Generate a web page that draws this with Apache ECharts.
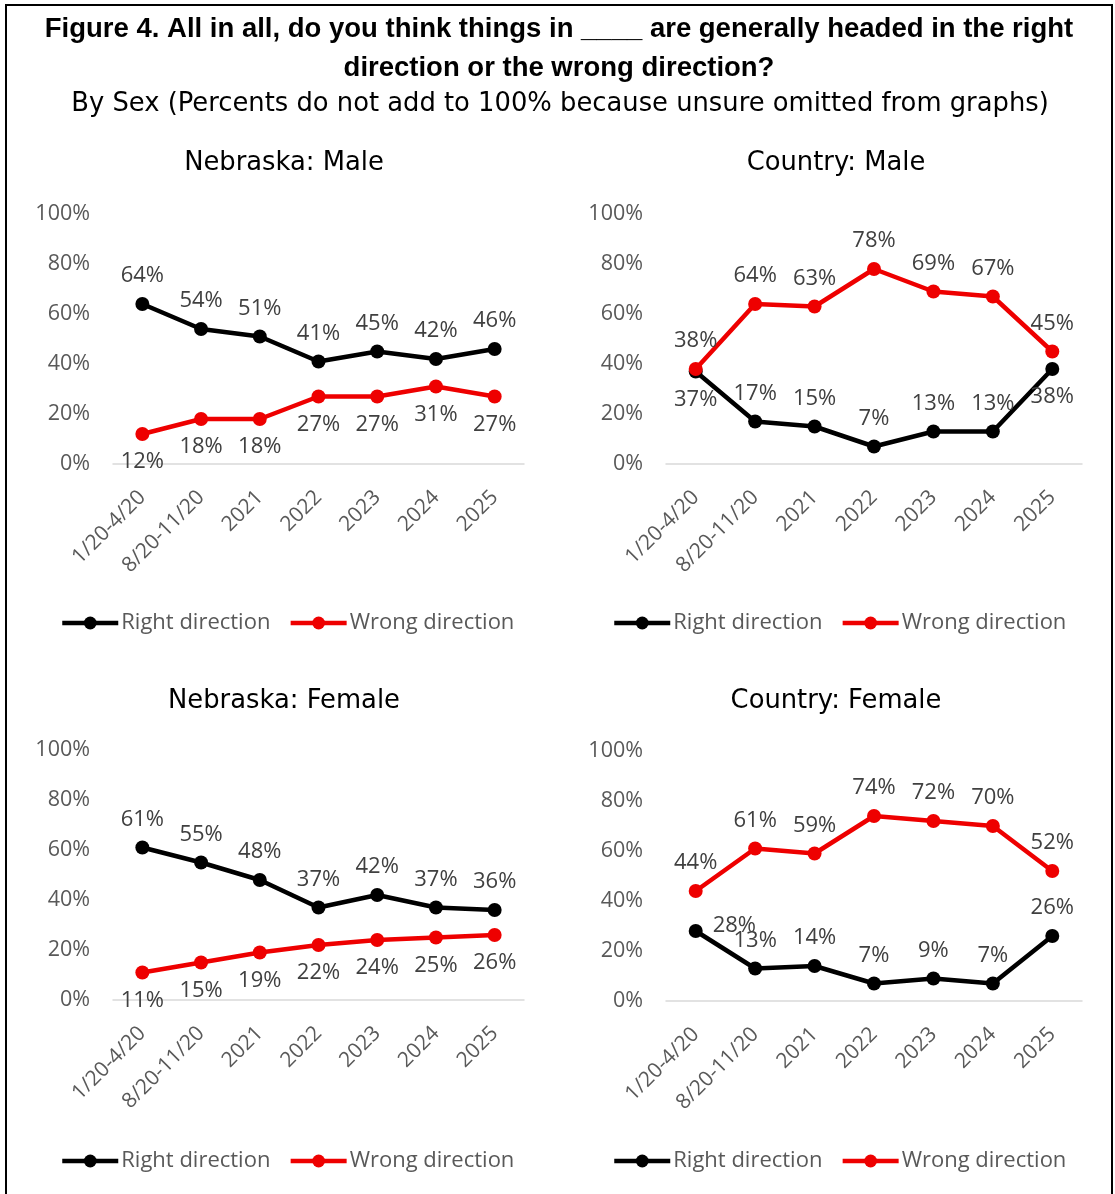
<!DOCTYPE html>
<html>
<head>
<meta charset="utf-8">
<script src="https://cdn.jsdelivr.net/npm/echarts@6/dist/echarts.min.js"></script>
<style>
  html, body { margin: 0; padding: 0; background: #fff; }
  #chart { width: 1115px; height: 1194px; }
</style>
</head>
<body>
<div id="chart"></div>
<script>
// 数据
var categories = ['1/20-4/20', '8/20-11/20', '2021', '2022', '2023', '2024', '2025'];
var seriesNames = ['Right direction', 'Wrong direction'];

var neMaleRight = [64, 54, 51, 41, 45, 42, 46];
var neMaleWrong = [12, 18, 18, 27, 27, 31, 27];
var usMaleRight = [37, 17, 15, 7, 13, 13, 38];
var usMaleWrong = [38, 64, 63, 78, 69, 67, 45];
var neFemaleRight = [61, 55, 48, 37, 42, 37, 36];
var neFemaleWrong = [11, 15, 19, 22, 24, 25, 26];
var usFemaleRight = [28, 13, 14, 7, 9, 7, 26];
var usFemaleWrong = [44, 61, 59, 74, 72, 70, 52];

var panelTitles = ['Nebraska: Male', 'Country: Male', 'Nebraska: Female', 'Country: Female'];

var chart = echarts.init(document.getElementById('chart'));

var FONT = '"Open Sans", sans-serif';
var TFONT = '"DejaVu Sans", sans-serif';
var RED = '#ee0000';
var BLACK = '#000000';

// 每个小图的位置
var panels = [
    { right: neMaleRight, wrong: neMaleWrong, grid: { left: 113, top: 214, width: 411, height: 250 }, cx: 284, ty: 163, ly: 607, rightPos: function() { return 'top'; }, wrongPos: 'bottom' },
    { right: usMaleRight, wrong: usMaleWrong, grid: { left: 666, top: 214, width: 416, height: 250 }, cx: 836, ty: 163, ly: 607, rightPos: function(i) { return (i === 0 || i === 6) ? 'bottom' : 'top'; }, wrongPos: 'top' },
    { right: neFemaleRight, wrong: neFemaleWrong, grid: { left: 113, top: 750, width: 411, height: 250 }, cx: 284, ty: 701, ly: 1145, rightPos: function() { return 'top'; }, wrongPos: 'bottom' },
    { right: usFemaleRight, wrong: usFemaleWrong, grid: { left: 666, top: 751, width: 416, height: 250 }, cx: 836, ty: 701, ly: 1145, rightPos: function(i) { return i === 0 ? 'right' : 'top'; }, wrongPos: 'top' }
];

var grids = [], xAxes = [], yAxes = [], series = [], legends = [];
var graphics = [
    { type: 'rect', shape: { x: 6, y: 5, width: 1106, height: 1200 }, style: { fill: 'none', stroke: '#000', lineWidth: 2 } },
    { type: 'text', x: 559, y: 29, style: { text: 'Figure 4. All in all, do you think things in ____ are generally headed in the right', align: 'center', verticalAlign: 'middle', font: 'bold 27.5px "Liberation Sans Narrow", sans-serif', fill: '#000' } },
    { type: 'text', x: 559, y: 68, style: { text: 'direction or the wrong direction?', align: 'center', verticalAlign: 'middle', font: 'bold 27.5px "Liberation Sans Narrow", sans-serif', fill: '#000' } },
    { type: 'text', x: 560, y: 104, style: { text: 'By Sex (Percents do not add to 100% because unsure omitted from graphs)', align: 'center', verticalAlign: 'middle', font: '25.8px ' + TFONT, fill: '#000' } }
];

function labelData(values, posFn) {
    return values.map(function(v, i) {
        var pos = posFn(i);
        var item = { value: v, label: { position: pos } };
        if (pos === 'right') item.label.offset = [0, -5];
        return item;
    });
}

panels.forEach(function(p, k) {
    grids.push(p.grid);
    xAxes.push({
        type: 'category',
        gridIndex: k,
        data: categories,
        boundaryGap: true,
        axisLine: { lineStyle: { color: '#d9d9d9', width: 1.5 } },
        axisTick: { show: false },
        axisLabel: { rotate: 45, margin: 30, fontSize: 21, color: '#595959', fontFamily: FONT, interval: 0 }
    });
    yAxes.push({
        type: 'value',
        gridIndex: k,
        min: 0,
        max: 100,
        interval: 20,
        axisLine: { show: false },
        axisTick: { show: false },
        splitLine: { show: false },
        axisLabel: { formatter: '{value}%', margin: 23, fontSize: 21.5, color: '#595959', fontFamily: FONT }
    });
    var common = {
        type: 'line',
        xAxisIndex: k,
        yAxisIndex: k,
        symbol: 'circle',
        symbolSize: 14,
        label: { show: true, formatter: '{c}%', fontSize: 22, color: '#404040', fontFamily: FONT, distance: 10 },
        z: 3
    };
    series.push(Object.assign({}, common, {
        name: seriesNames[0],
        itemStyle: { color: BLACK },
        lineStyle: { width: 4.5, color: BLACK },
        data: labelData(p.right, p.rightPos)
    }));
    series.push(Object.assign({}, common, {
        name: seriesNames[1],
        itemStyle: { color: RED },
        lineStyle: { width: 4.5, color: RED },
        data: labelData(p.wrong, function() { return p.wrongPos; }),
        z: 4
    }));
    legends.push({
        data: seriesNames,
        left: p.cx - 229,
        top: p.ly,
        itemWidth: 56,
        itemHeight: 16,
        itemGap: 18,
        lineStyle: { width: 4.5 },
        textStyle: { fontSize: 22, color: '#595959', fontFamily: FONT, padding: [0, 0, 0, -2] }
    });
    graphics.push({ type: 'text', x: p.cx, y: p.ty, style: { text: panelTitles[k], align: 'center', verticalAlign: 'middle', font: '25.8px ' + TFONT, fill: '#000' } });
});

var option = {
    backgroundColor: '#fff',
    animation: false,
    grid: grids,
    xAxis: xAxes,
    yAxis: yAxes,
    legend: legends,
    series: series,
    graphic: graphics
};

chart.setOption(option);

window.addEventListener('resize', function() {
    chart && chart.resize();
});
</script>
</body>
</html>
